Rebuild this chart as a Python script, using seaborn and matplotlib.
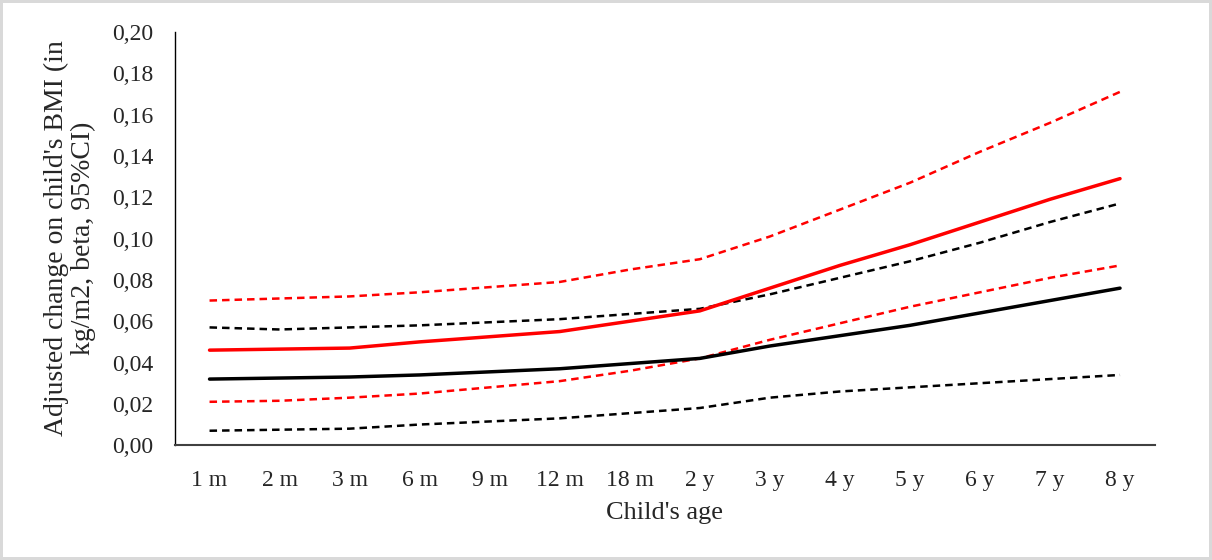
import matplotlib
matplotlib.use("Agg")
import matplotlib.pyplot as plt
import seaborn as sns
import pandas as pd
from matplotlib.ticker import FuncFormatter

# values
ages = ["1 m", "2 m", "3 m", "6 m", "9 m", "12 m", "18 m",
        "2 y", "3 y", "4 y", "5 y", "6 y", "7 y", "8 y"]

red_beta = [0.046, 0.0465, 0.047, 0.050, 0.0525, 0.055, 0.060,
            0.065, 0.076, 0.087, 0.097, 0.108, 0.119, 0.129]
red_upper = [0.070, 0.071, 0.072, 0.074, 0.0765, 0.079, 0.085,
             0.090, 0.101, 0.114, 0.127, 0.142, 0.156, 0.171]
red_lower = [0.021, 0.0215, 0.023, 0.025, 0.028, 0.031, 0.036,
             0.042, 0.051, 0.059, 0.067, 0.074, 0.081, 0.087]

black_beta = [0.032, 0.0325, 0.033, 0.034, 0.0355, 0.037, 0.0395,
              0.042, 0.048, 0.053, 0.058, 0.064, 0.070, 0.076]
black_upper = [0.057, 0.056, 0.057, 0.058, 0.0595, 0.061, 0.0635,
               0.066, 0.073, 0.081, 0.089, 0.098, 0.108, 0.117]
black_lower = [0.007, 0.0075, 0.008, 0.010, 0.0115, 0.013, 0.0155,
               0.018, 0.023, 0.026, 0.028, 0.030, 0.032, 0.034]

sns.set_style("white")
plt.rcParams['font.family'] = ['Liberation Serif', 'DejaVu Serif']

fig = plt.figure(figsize=(12.12, 5.6), dpi=100, edgecolor="#d9d9d9", linewidth=3)
ax = fig.add_axes([0.144, 0.205, 0.809, 0.738])

series = [
    (black_lower, "black", "--", 1.8),
    (black_upper, "black", "--", 1.8),
    (red_lower, "red", "--", 1.8),
    (red_upper, "red", "--", 1.8),
    (black_beta, "black", "-", 2.5),
    (red_beta, "red", "-", 2.5),
]
for vals, col, ls, lw in series:
    df = pd.DataFrame({"age": ages, "beta": vals})
    sns.lineplot(data=df, x="age", y="beta", color=col, linestyle=ls,
                 linewidth=lw, sort=False, ax=ax)
    if ls == "--":
        ax.lines[-1].set_dashes((3.0, 2.0))

ax.set_xlim(-0.5, len(ages) - 0.5)
ax.set_ylim(0, 0.20)
ax.set_yticks([i * 0.02 for i in range(11)])
ax.yaxis.set_major_formatter(FuncFormatter(lambda v, p: f"{v:.2f}".replace(".", ",")))
ax.tick_params(axis="both", labelsize=17, length=0)
ax.tick_params(axis="y", pad=15)
ax.tick_params(axis="x", pad=18)

ax.set_xlabel("Child's age", fontsize=19, labelpad=8)
ax.set_ylabel("Adjusted change on child's BMI (in\nkg/m2, beta, 95%CI)",
              fontsize=20, labelpad=12, linespacing=1.1)

sns.despine(ax=ax)
ax.spines["left"].set_color("black")
ax.spines["bottom"].set_color("#404040")
ax.spines["left"].set_linewidth(1.0)
ax.spines["bottom"].set_linewidth(1.5)

fig.savefig("out.png", dpi=100, edgecolor=fig.get_edgecolor())
